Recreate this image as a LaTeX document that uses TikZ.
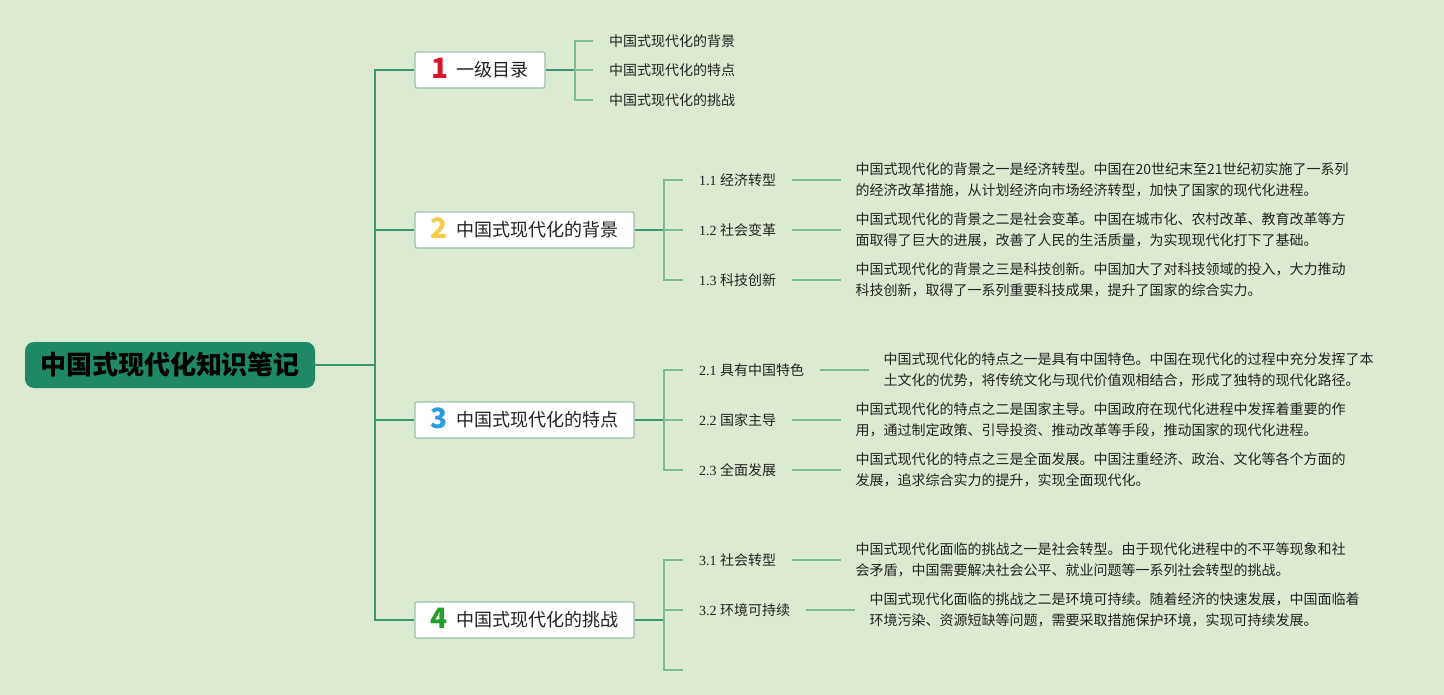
\documentclass[tikz,border=0pt]{standalone}
\usepackage{fontspec}
\setmainfont{Liberation Serif}
\newfontfamily\cjk{Noto Sans CJK SC}
\usetikzlibrary{positioning}
\definecolor{bg}{HTML}{DCEAD2}
\definecolor{trunkc}{HTML}{3E9573}
\definecolor{subc}{HTML}{7DBB95}
\definecolor{rootc}{HTML}{1F8866}
\definecolor{txt}{HTML}{222222}
\definecolor{boxline}{HTML}{9DC2B0}
\definecolor{cone}{HTML}{D8162B}
\definecolor{ctwo}{HTML}{F2CC4A}
\definecolor{cthree}{HTML}{2B9BDF}
\definecolor{cfour}{HTML}{23A02A}
\tikzset{
  rootbox/.style={fill=rootc, rounded corners=9pt, minimum width=290pt, minimum height=46pt, inner sep=0pt,
    font=\cjk\bfseries\fontsize{26}{30}\selectfont, text=black},
  lonebox/.style={fill=white, draw=boxline, line width=1.3pt, rounded corners=2pt, minimum height=36pt, inner sep=0pt,
    font=\cjk\fontsize{18}{22}\selectfont, text=txt},
  trunkline/.style={draw=trunkc, line width=1.8pt},
  subline/.style={draw=subc, line width=1.8pt},
  leaf/.style={inner xsep=16pt, inner ysep=2pt, font=\fontsize{14}{18}\selectfont, text=txt, anchor=west},
  desc/.style={inner xsep=14pt, inner ysep=0pt, align=left, font=\cjk\fontsize{14}{21}\selectfont, text=txt},
  toc/.style={inner xsep=16pt, inner ysep=2pt, font=\cjk\fontsize{14}{18}\selectfont, text=txt, anchor=west},
}
\newcommand{\bnum}[2]{\smash{\raisebox{-1.5pt}{\cjk\bfseries\fontsize{28}{28}\selectfont\color{#1}#2}}\hspace{8pt}}
\begin{document}
\begin{tikzpicture}[x=1pt,y=-1pt]
\fill[bg] (0,0) rectangle (1444,695);
\useasboundingbox (0,0) rectangle (1444,695);

% root
\node[rootbox] (root) at (170,365) {中国式现代化知识笔记};
\coordinate (t) at (375,365);

% level 1
\node[lonebox, minimum width=130pt] (n1) at (480,70) {\bnum{cone}{1}一级目录};
\node[lonebox, minimum width=219pt] (n2) at (524.5,230) {\bnum{ctwo}{2}中国式现代化的背景};
\node[lonebox, minimum width=219pt] (n3) at (524.5,420) {\bnum{cthree}{3}中国式现代化的特点};
\node[lonebox, minimum width=219pt] (n4) at (524.5,620) {\bnum{cfour}{4}中国式现代化的挑战};

\draw[trunkline] (root.east) -- (t);
\draw[trunkline] (t) |- (n1.west);
\draw[trunkline] (t) |- (n2.west);
\draw[trunkline] (t) |- (n3.west);
\draw[trunkline] (t) |- (n4.west);

% branch 1
\node[toc] (c11) at (593,41) {中国式现代化的背景};
\node[toc] (c12) at (593,70) {中国式现代化的特点};
\node[toc] (c13) at (593,100) {中国式现代化的挑战};
\coordinate (b1) at (575,70);
\draw[trunkline] (n1.east) -- (b1);
\draw[subline] (b1) |- (c11.west);
\draw[subline] (b1) |- (c12.west);
\draw[subline] (b1) |- (c13.west);

% branch 2
\node[leaf] (l11) at (683,180) {1.1 {\cjk 经济转型}};
\node[leaf] (l12) at (683,230) {1.2 {\cjk 社会变革}};
\node[leaf] (l13) at (683,280) {1.3 {\cjk 科技创新}};
\coordinate (b2) at (664,230);
\draw[trunkline] (n2.east) -- (b2);
\draw[subline] (b2) |- (l11.west);
\draw[subline] (b2) |- (l12.west);
\draw[subline] (b2) |- (l13.west);
\node[desc, right=49pt of l11] (d11) {中国式现代化的背景之一是经济转型。中国在20世纪末至21世纪初实施了一系列\\的经济改革措施，从计划经济向市场经济转型，加快了国家的现代化进程。};
\node[desc, right=49pt of l12] (d12) {中国式现代化的背景之二是社会变革。中国在城市化、农村改革、教育改革等方\\面取得了巨大的进展，改善了人民的生活质量，为实现现代化打下了基础。};
\node[desc, right=49pt of l13] (d13) {中国式现代化的背景之三是科技创新。中国加大了对科技领域的投入，大力推动\\科技创新，取得了一系列重要科技成果，提升了国家的综合实力。};
\draw[subline] (l11.east) -- (d11.west);
\draw[subline] (l12.east) -- (d12.west);
\draw[subline] (l13.east) -- (d13.west);

% branch 3
\node[leaf] (l21) at (683,370) {2.1 {\cjk 具有中国特色}};
\node[leaf] (l22) at (683,420) {2.2 {\cjk 国家主导}};
\node[leaf] (l23) at (683,470) {2.3 {\cjk 全面发展}};
\coordinate (b3) at (664,420);
\draw[trunkline] (n3.east) -- (b3);
\draw[subline] (b3) |- (l21.west);
\draw[subline] (b3) |- (l22.west);
\draw[subline] (b3) |- (l23.west);
\node[desc, right=49pt of l21] (d21) {中国式现代化的特点之一是具有中国特色。中国在现代化的过程中充分发挥了本\\土文化的优势，将传统文化与现代价值观相结合，形成了独特的现代化路径。};
\node[desc, right=49pt of l22] (d22) {中国式现代化的特点之二是国家主导。中国政府在现代化进程中发挥着重要的作\\用，通过制定政策、引导投资、推动改革等手段，推动国家的现代化进程。};
\node[desc, right=49pt of l23] (d23) {中国式现代化的特点之三是全面发展。中国注重经济、政治、文化等各个方面的\\发展，追求综合实力的提升，实现全面现代化。};
\draw[subline] (l21.east) -- (d21.west);
\draw[subline] (l22.east) -- (d22.west);
\draw[subline] (l23.east) -- (d23.west);

% branch 4
\node[leaf] (l31) at (683,560) {3.1 {\cjk 社会转型}};
\node[leaf] (l32) at (683,610) {3.2 {\cjk 环境可持续}};
\coordinate (l33) at (683,670);
\coordinate (b4) at (664,620);
\draw[trunkline] (n4.east) -- (b4);
\draw[subline] (b4) |- (l31.west);
\draw[subline] (b4) |- (l32.west);
\draw[subline] (b4) |- (l33);
\node[desc, right=49pt of l31] (d31) {中国式现代化面临的挑战之一是社会转型。由于现代化进程中的不平等现象和社\\会矛盾，中国需要解决社会公平、就业问题等一系列社会转型的挑战。};
\node[desc, right=49pt of l32] (d32) {中国式现代化面临的挑战之二是环境可持续。随着经济的快速发展，中国面临着\\环境污染、资源短缺等问题，需要采取措施保护环境，实现可持续发展。};
\draw[subline] (l31.east) -- (d31.west);
\draw[subline] (l32.east) -- (d32.west);
\end{tikzpicture}
\end{document}
